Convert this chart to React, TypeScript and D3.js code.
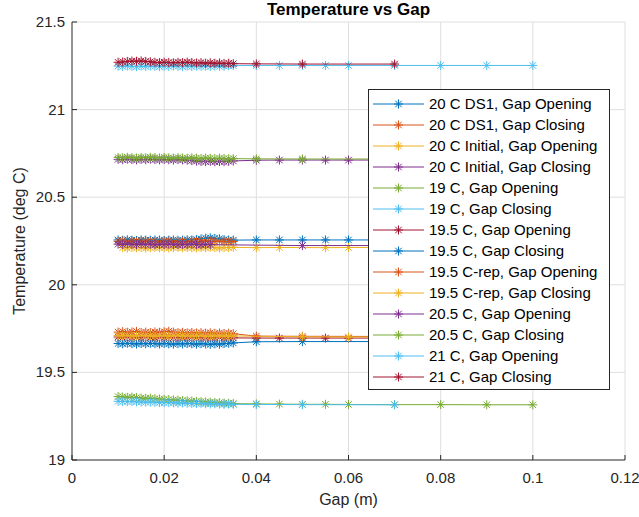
import React from 'react';
import * as d3 from 'd3';

const W = 639;
const H = 517;
const PLOT = { left: 72, right: 625, top: 22, bottom: 460 };

const xTicks = [0, 0.02, 0.04, 0.06, 0.08, 0.1, 0.12];
const xTickLabels = ['0', '0.02', '0.04', '0.06', '0.08', '0.1', '0.12'];
const yTicks = [19, 19.5, 20, 20.5, 21, 21.5];
const yTickLabels = ['19', '19.5', '20', '20.5', '21', '21.5'];

const titleText = 'Temperature vs Gap';
const xLabel = 'Gap (m)';
const yLabel = 'Temperature (deg C)';

// gap readings (m)
const gapDense = [0.010, 0.011, 0.012, 0.013, 0.014, 0.015, 0.016, 0.017, 0.018, 0.019, 0.020, 0.021, 0.022, 0.023, 0.024, 0.025, 0.026, 0.027, 0.028, 0.029, 0.030, 0.031, 0.032, 0.033, 0.034, 0.035];
const gapDenseFrom011 = [0.011, 0.012, 0.013, 0.014, 0.015, 0.016, 0.017, 0.018, 0.019, 0.020, 0.021, 0.022, 0.023, 0.024, 0.025, 0.026, 0.027, 0.028, 0.029, 0.030, 0.031, 0.032, 0.033, 0.034, 0.035];
const gapDenseTo030 = [0.010, 0.011, 0.012, 0.013, 0.014, 0.015, 0.016, 0.017, 0.018, 0.019, 0.020, 0.021, 0.022, 0.023, 0.024, 0.025, 0.026, 0.027, 0.028, 0.029, 0.030];
const gapTailFull = [0.040, 0.045, 0.050, 0.055, 0.060, 0.070, 0.080, 0.090, 0.100];
const gapTailShort = [0.040, 0.050, 0.070];
const gapTailInitOpen = [0.040, 0.045, 0.055, 0.060, 0.070, 0.080, 0.090, 0.100];
const gapTailInitClose = [0.050, 0.070];
const gapTailRepClose = [0.050, 0.060, 0.070];

const seriesNames = [
  '20 C DS1, Gap Opening',
  '20 C DS1, Gap Closing',
  '20 C Initial, Gap Opening',
  '20 C Initial, Gap Closing',
  '19 C, Gap Opening',
  '19 C, Gap Closing',
  '19.5 C, Gap Opening',
  '19.5 C, Gap Closing',
  '19.5 C-rep, Gap Opening',
  '19.5 C-rep, Gap Closing',
  '20.5 C, Gap Opening',
  '20.5 C, Gap Closing',
  '21 C, Gap Opening',
  '21 C, Gap Closing',
];

const seriesColors = ['#0072BD', '#D95319', '#EDB120', '#7E2F8E', '#77AC30', '#4DBEEE', '#A2142F', '#0072BD', '#D95319', '#EDB120', '#7E2F8E', '#77AC30', '#4DBEEE', '#A2142F'];

// temperatures (deg C)
const t20ds1Open = [20.256, 20.254, 20.257, 20.255, 20.253, 20.256, 20.255, 20.254, 20.256, 20.255, 20.253, 20.255, 20.256, 20.254, 20.255, 20.257, 20.256, 20.258, 20.262, 20.266, 20.268, 20.265, 20.262, 20.258, 20.256, 20.255,
  20.256, 20.256, 20.256, 20.256, 20.256, 20.256, 20.256, 20.256, 20.256];
const t20ds1Close = [20.248, 20.250, 20.247, 20.249, 20.246, 20.248, 20.250, 20.247, 20.245, 20.248, 20.246, 20.249, 20.247, 20.245, 20.248, 20.246, 20.249, 20.247, 20.250, 20.252, 20.249, 20.247, 20.250, 20.248, 20.246, 20.247];
const t20initOpen = [20.212, 20.210, 20.214, 20.211, 20.213, 20.209, 20.212, 20.214, 20.211, 20.213, 20.210, 20.212, 20.214, 20.211, 20.213, 20.212, 20.210, 20.213, 20.211, 20.214, 20.212, 20.210, 20.213, 20.212, 20.214,
  20.212, 20.213, 20.212, 20.213, 20.213, 20.212, 20.213, 20.212];
const t20initClose = [20.232, 20.230, 20.234, 20.231, 20.229, 20.233, 20.230, 20.232, 20.228, 20.231, 20.229, 20.232, 20.230, 20.228, 20.231, 20.229, 20.232, 20.230, 20.228, 20.231, 20.229,
  20.224, 20.224];
const t19Open = [19.362, 19.360, 19.358, 19.359, 19.356, 19.354, 19.352, 19.353, 19.350, 19.348, 19.346, 19.345, 19.343, 19.341, 19.340, 19.338, 19.336, 19.335, 19.333, 19.331, 19.330, 19.328, 19.327, 19.325, 19.324, 19.322,
  19.320, 19.319, 19.318, 19.318, 19.317, 19.316, 19.316, 19.315, 19.315];
const t19Close = [19.335, 19.334, 19.333, 19.334, 19.332, 19.331, 19.330, 19.331, 19.329, 19.328, 19.327, 19.328, 19.326, 19.325, 19.326, 19.324, 19.323, 19.322, 19.323, 19.321, 19.320, 19.321, 19.319, 19.318, 19.319, 19.318,
  19.317, 19.316, 19.315];
const t195Open = [19.702, 19.700, 19.703, 19.699, 19.701, 19.698, 19.702, 19.700, 19.697, 19.701, 19.699, 19.702, 19.698, 19.700, 19.697, 19.699, 19.701, 19.698, 19.700, 19.697, 19.699, 19.698, 19.700, 19.697, 19.698, 19.697,
  19.696, 19.696, 19.696, 19.696, 19.696, 19.696, 19.696, 19.696, 19.696];
const t195Close = [19.665, 19.663, 19.666, 19.664, 19.662, 19.665, 19.663, 19.666, 19.664, 19.662, 19.665, 19.663, 19.661, 19.664, 19.662, 19.665, 19.663, 19.661, 19.664, 19.662, 19.660, 19.663, 19.661, 19.664, 19.666, 19.668,
  19.675, 19.676, 19.676];
const t195RepOpen = [19.730, 19.733, 19.729, 19.731, 19.734, 19.728, 19.730, 19.727, 19.731, 19.729, 19.732, 19.735, 19.730, 19.727, 19.729, 19.726, 19.728, 19.725, 19.727, 19.724, 19.726, 19.723, 19.725, 19.722, 19.724, 19.721,
  19.707, 19.706, 19.705];
const t195RepClose = [19.710, 19.708, 19.711, 19.707, 19.709, 19.712, 19.708, 19.710, 19.706, 19.709, 19.711, 19.707, 19.709, 19.712, 19.708, 19.710, 19.707, 19.709, 19.711, 19.706, 19.708, 19.710, 19.707, 19.709, 19.706, 19.708,
  19.703, 19.702, 19.702];
const t205Open = [20.716, 20.714, 20.717, 20.715, 20.713, 20.716, 20.714, 20.717, 20.715, 20.713, 20.716, 20.714, 20.712, 20.715, 20.713, 20.711, 20.709, 20.706, 20.704, 20.703, 20.705, 20.702, 20.704, 20.703, 20.705, 20.707,
  20.711, 20.712, 20.712, 20.712, 20.712, 20.712, 20.712, 20.712, 20.712];
const t205Close = [20.727, 20.725, 20.728, 20.726, 20.724, 20.727, 20.725, 20.728, 20.726, 20.724, 20.727, 20.725, 20.723, 20.726, 20.724, 20.722, 20.725, 20.723, 20.721, 20.724, 20.722, 20.720, 20.723, 20.721, 20.719, 20.720,
  20.719, 20.718, 20.718];
const t21Open = [21.248, 21.246, 21.249, 21.247, 21.245, 21.248, 21.246, 21.249, 21.247, 21.245, 21.248, 21.246, 21.249, 21.247, 21.245, 21.248, 21.246, 21.249, 21.247, 21.248, 21.246, 21.249, 21.247, 21.248, 21.250, 21.251,
  21.252, 21.252, 21.252, 21.252, 21.252, 21.252, 21.252, 21.252, 21.252];
const t21Close = [21.270, 21.272, 21.275, 21.277, 21.276, 21.278, 21.275, 21.273, 21.270, 21.268, 21.271, 21.269, 21.267, 21.270, 21.268, 21.271, 21.269, 21.266, 21.268, 21.265, 21.267, 21.264, 21.266, 21.263, 21.265, 21.262,
  21.261, 21.260, 21.260];

const seriesGaps = [
  [...gapDense, ...gapTailFull],
  gapDense,
  [...gapDenseFrom011, ...gapTailInitOpen],
  [...gapDenseTo030, ...gapTailInitClose],
  [...gapDense, ...gapTailFull],
  [...gapDense, ...gapTailShort],
  [...gapDense, ...gapTailFull],
  [...gapDense, ...gapTailShort],
  [...gapDense, ...gapTailShort],
  [...gapDense, ...gapTailRepClose],
  [...gapDense, ...gapTailFull],
  [...gapDense, ...gapTailShort],
  [...gapDense, ...gapTailFull],
  [...gapDense, ...gapTailShort],
];
const seriesTemps = [t20ds1Open, t20ds1Close, t20initOpen, t20initClose, t19Open, t19Close, t195Open, t195Close, t195RepOpen, t195RepClose, t205Open, t205Close, t21Open, t21Close];

const FONT = '"Liberation Sans", Arial, Helvetica, sans-serif';
const AX = '#262626';
const GRID = '#dfdfdf';

function asterisk(r: number) {
  const d = r * 0.72;
  return `M0,${-r}V${r}M${-r},0H${r}M${-d},${-d}L${d},${d}M${-d},${d}L${d},${-d}`;
}

export default function App() {
  const x = d3.scaleLinear().domain([0, 0.12]).range([PLOT.left, PLOT.right]);
  const y = d3.scaleLinear().domain([19, 21.5]).range([PLOT.bottom, PLOT.top]);
  const line = d3.line<[number, number]>().x((d) => x(d[0])).y((d) => y(d[1]));
  const star = asterisk(4.5);

  const legendX = 368;
  const legendY = 89;
  const legendW = 241;
  const legendH = 300;
  const rowH = 21;
  const firstRow = 104;

  return (
    <svg width={W} height={H} style={{ position: 'absolute', left: 0, top: 0, background: '#fff' }} fontFamily={FONT}>
      <rect x={0} y={0} width={W} height={H} fill="#fff" />
      {/* grid */}
      {xTicks.slice(1).map((t) => (
        <line key={'gx' + t} x1={x(t)} x2={x(t)} y1={PLOT.top} y2={PLOT.bottom} stroke={GRID} strokeWidth={1} />
      ))}
      {yTicks.slice(1).map((t) => (
        <line key={'gy' + t} x1={PLOT.left} x2={PLOT.right} y1={y(t)} y2={y(t)} stroke={GRID} strokeWidth={1} />
      ))}
      {/* series */}
      {seriesNames.map((name, i) => {
        const pts: [number, number][] = seriesGaps[i].map((g, j) => [g, seriesTemps[i][j]]);
        return (
          <g key={name}>
            <path d={line(pts) || ''} fill="none" stroke={seriesColors[i]} strokeWidth={1} />
            {pts.map((p, j) => (
              <path key={j} d={star} transform={`translate(${x(p[0])},${y(p[1])})`} fill="none" stroke={seriesColors[i]} strokeWidth={1} />
            ))}
          </g>
        );
      })}
      {/* axes */}
      <line x1={PLOT.left} x2={PLOT.left} y1={PLOT.top} y2={PLOT.bottom} stroke={AX} strokeWidth={1} />
      <line x1={PLOT.left} x2={PLOT.right} y1={PLOT.bottom} y2={PLOT.bottom} stroke={AX} strokeWidth={1} />
      {xTicks.map((t, i) => (
        <g key={'xt' + t}>
          <line x1={x(t)} x2={x(t)} y1={PLOT.bottom} y2={PLOT.bottom - 5} stroke={AX} />
          <text x={x(t)} y={PLOT.bottom + 23} textAnchor="middle" fontSize={15} fill={AX}>{xTickLabels[i]}</text>
        </g>
      ))}
      {yTicks.map((t, i) => (
        <g key={'yt' + t}>
          <line x1={PLOT.left} x2={PLOT.left + 5} y1={y(t)} y2={y(t)} stroke={AX} />
          <text x={PLOT.left - 7} y={y(t) + 5} textAnchor="end" fontSize={15} fill={AX}>{yTickLabels[i]}</text>
        </g>
      ))}
      <text x={(PLOT.left + PLOT.right) / 2} y={505} textAnchor="middle" fontSize={16} fill={AX}>{xLabel}</text>
      <text transform={`translate(25,${(PLOT.top + PLOT.bottom) / 2}) rotate(-90)`} textAnchor="middle" fontSize={16} fill={AX}>{yLabel}</text>
      <text x={(PLOT.left + PLOT.right) / 2} y={15} textAnchor="middle" fontSize={17} fontWeight="bold" fill="#000">{titleText}</text>
      {/* legend */}
      <rect x={legendX + 0.5} y={legendY + 0.5} width={legendW} height={legendH} fill="#fff" stroke={AX} strokeWidth={1} />
      {seriesNames.map((name, i) => {
        const cy = firstRow + i * rowH;
        return (
          <g key={'lg' + name}>
            <line x1={373} x2={424} y1={cy} y2={cy} stroke={seriesColors[i]} strokeWidth={1} />
            <path d={star} transform={`translate(398.5,${cy})`} fill="none" stroke={seriesColors[i]} strokeWidth={1} />
            <text x={429} y={cy + 5} fontSize={15} fill="#000">{name}</text>
          </g>
        );
      })}
    </svg>
  );
}
